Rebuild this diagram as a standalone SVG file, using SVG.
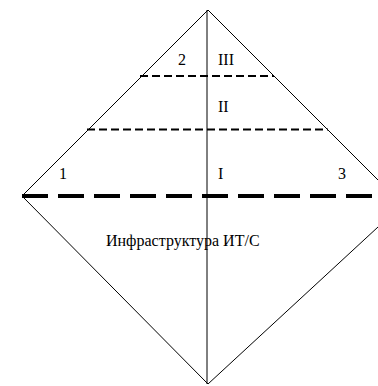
<svg xmlns="http://www.w3.org/2000/svg" width="378" height="386" viewBox="0 0 378 386">
<style>
.edge{stroke:#000;stroke-width:1;fill:none}
.thin{stroke:#000;stroke-width:1.8;stroke-dasharray:8 4;fill:none}
.thick{stroke:#000;stroke-width:4;stroke-dasharray:26 10;fill:none}
text{font-family:"Liberation Serif","Times New Roman",serif;font-size:16px;fill:#000}
</style>
<rect width="378" height="386" fill="#fff"/>
<g id="connectors">
<line class="edge" x1="208" y1="10" x2="22" y2="196"/>
<line class="edge" x1="208" y1="10" x2="378" y2="180"/>
<line class="edge" x1="22" y1="196" x2="208" y2="384"/>
<line class="edge" x1="378" y1="227" x2="208" y2="384"/>
<line class="edge" x1="207" y1="10" x2="207" y2="384"/>
<line class="thin" x1="140" y1="76" x2="274" y2="76"/>
<line class="thin" x1="87" y1="129.5" x2="328" y2="129.5"/>
<line class="thick" x1="22" y1="196" x2="378" y2="196"/>
</g>
<g id="labels">
<text x="178" y="65">2</text>
<text x="218" y="65">III</text>
<text x="218" y="112">II</text>
<text x="59" y="179">1</text>
<text x="218" y="179">I</text>
<text x="338" y="179">3</text>
<text x="106" y="246">Инфраструктура ИТ/С</text>
</g>
</svg>
